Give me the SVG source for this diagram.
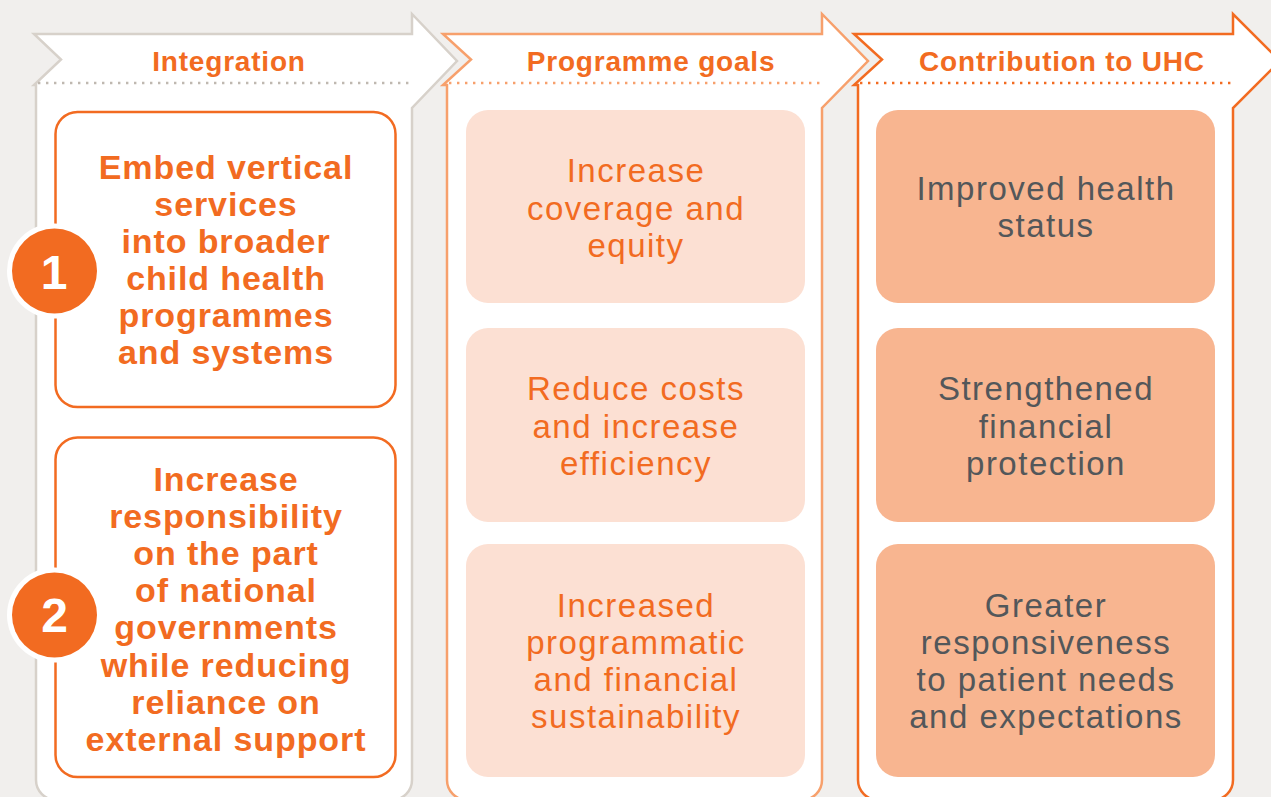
<svg xmlns="http://www.w3.org/2000/svg" width="1271" height="797" viewBox="0 0 1271 797">
<defs>
<style>
.bg{fill:#f1efed}
.panel{fill:#ffffff;stroke-width:2.5;stroke-linejoin:miter}
.p1{stroke:#d7d1ca}
.p2{stroke:#f7a06c}
.p3{stroke:#f26b21}
.dots{fill:none;stroke-width:2.4;stroke-dasharray:2.4 5.6}
.hdr{font-family:"Liberation Sans",Arial,sans-serif;font-weight:bold;font-size:28px;letter-spacing:0.8px;fill:#f26b21;text-anchor:middle}
.box1{fill:#ffffff;stroke:#f26b21;stroke-width:2.5}
.t1{font-family:"Liberation Sans",Arial,sans-serif;font-weight:bold;font-size:34px;letter-spacing:0.9px;fill:#f26b21;text-anchor:middle}
.box2{fill:#fce0d3}
.t2{font-family:"Liberation Sans",Arial,sans-serif;font-size:33px;letter-spacing:1.5px;fill:#f26b21;text-anchor:middle}
.box3{fill:#f8b590}
.t3{font-family:"Liberation Sans",Arial,sans-serif;font-size:33px;letter-spacing:1.5px;fill:#53575a;text-anchor:middle}
.ring{fill:#ffffff}
.disc{fill:#f26b21}
.num{font-family:"Liberation Sans",Arial,sans-serif;font-weight:bold;font-size:48px;fill:#ffffff;text-anchor:middle}
</style>
</defs>
<rect class="bg" x="0" y="0" width="1271" height="797"/>

<g id="panel-integration">
<path class="panel p1" d="M36 85 L34 85 L61 59.5 L34 34 L412 34 L412 14 L457 61 L412 108 L412 780 A20 20 0 0 1 392 800 L56 800 A20 20 0 0 1 36 780 Z"/>
<line class="dots" x1="38" y1="83" x2="412" y2="83" stroke="#bfb8b0"/>
<text class="hdr" x="229" y="71">Integration</text>
</g>

<g id="panel-goals">
<path class="panel p2" d="M447 85 L443 85 L471 59.5 L443 34 L822 34 L822 14 L868 61 L822 108 L822 780 A20 20 0 0 1 802 800 L467 800 A20 20 0 0 1 447 780 Z"/>
<line class="dots" x1="449" y1="83" x2="822" y2="83" stroke="#f7a06c"/>
<text class="hdr" x="651" y="71">Programme goals</text>
</g>

<g id="panel-uhc">
<path class="panel p3" d="M858 85 L854 85 L882 59.5 L854 34 L1233 34 L1233 14 L1280 61 L1233 108 L1233 780 A20 20 0 0 1 1213 800 L878 800 A20 20 0 0 1 858 780 Z"/>
<line class="dots" x1="860" y1="83" x2="1233" y2="83" stroke="#f26b21"/>
<text class="hdr" x="1062" y="71">Contribution to UHC</text>
</g>

<g id="integration-1">
<rect class="box1" x="55.5" y="112" width="340" height="295" rx="22"/>
<text class="t1" x="226" y="179">Embed vertical</text>
<text class="t1" x="226" y="216">services</text>
<text class="t1" x="226" y="253">into broader</text>
<text class="t1" x="226" y="290">child health</text>
<text class="t1" x="226" y="327">programmes</text>
<text class="t1" x="226" y="364">and systems</text>
<circle class="ring" cx="54.5" cy="271" r="47.5"/>
<circle class="disc" cx="54.5" cy="271" r="42.5"/>
<text class="num" x="54" y="289">1</text>
</g>

<g id="integration-2">
<rect class="box1" x="55.5" y="437.5" width="340" height="339.5" rx="22"/>
<text class="t1" x="226" y="491">Increase</text>
<text class="t1" x="226" y="528">responsibility</text>
<text class="t1" x="226" y="565">on the part</text>
<text class="t1" x="226" y="602">of national</text>
<text class="t1" x="226" y="639">governments</text>
<text class="t1" x="226" y="677">while reducing</text>
<text class="t1" x="226" y="714">reliance on</text>
<text class="t1" x="226" y="751">external support</text>
<circle class="ring" cx="54.5" cy="615" r="47.5"/>
<circle class="disc" cx="54.5" cy="615" r="42.5"/>
<text class="num" x="54.5" y="632">2</text>
</g>

<g id="goal-1">
<rect class="box2" x="466" y="110" width="339" height="193" rx="22"/>
<text class="t2" x="636" y="182">Increase</text>
<text class="t2" x="636" y="219.5">coverage and</text>
<text class="t2" x="636" y="257">equity</text>
</g>

<g id="goal-2">
<rect class="box2" x="466" y="328" width="339" height="194" rx="22"/>
<text class="t2" x="636" y="400">Reduce costs</text>
<text class="t2" x="636" y="437.5">and increase</text>
<text class="t2" x="636" y="475">efficiency</text>
</g>

<g id="goal-3">
<rect class="box2" x="466" y="544" width="339" height="233" rx="22"/>
<text class="t2" x="636" y="617">Increased</text>
<text class="t2" x="636" y="654">programmatic</text>
<text class="t2" x="636" y="691">and financial</text>
<text class="t2" x="636" y="728">sustainability</text>
</g>

<g id="uhc-1">
<rect class="box3" x="876" y="110" width="339" height="193" rx="22"/>
<text class="t3" x="1046" y="200">Improved health</text>
<text class="t3" x="1046" y="237">status</text>
</g>

<g id="uhc-2">
<rect class="box3" x="876" y="328" width="339" height="194" rx="22"/>
<text class="t3" x="1046" y="400">Strengthened</text>
<text class="t3" x="1046" y="437.5">financial</text>
<text class="t3" x="1046" y="475">protection</text>
</g>

<g id="uhc-3">
<rect class="box3" x="876" y="544" width="339" height="233" rx="22"/>
<text class="t3" x="1046" y="617">Greater</text>
<text class="t3" x="1046" y="654">responsiveness</text>
<text class="t3" x="1046" y="691">to patient needs</text>
<text class="t3" x="1046" y="728">and expectations</text>
</g>

<g id="connectors"></g>
</svg>
